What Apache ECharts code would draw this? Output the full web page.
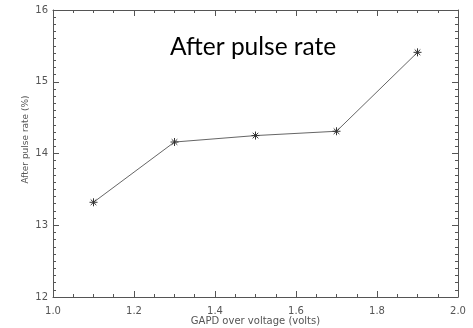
<!DOCTYPE html>
<html><head><meta charset="utf-8">
<script src="https://cdn.jsdelivr.net/npm/echarts@6/dist/echarts.min.js"></script>
<style>html,body{margin:0;padding:0;background:#fff}#c{width:473px;height:328px}</style>
</head><body><div id="c"></div>
<script>
const xValues = [1.1, 1.3, 1.5, 1.7, 1.9];
const afterPulseRate = [13.32, 14.16, 14.25, 14.31, 15.41];
const titleText = "After pulse rate";
const xName = "GAPD over voltage (volts)";
const yName = "After pulse rate (%)";

const axisCol = '#555';
const lblStyle = {color: '#555', fontSize: 10, fontFamily: 'DejaVu Sans'};
const star = 'path://M0 5 L10 5 M5 0 L5 10 M1.5 1.5 L8.5 8.5 M8.5 1.5 L1.5 8.5';
const X = {min: 1.0, max: 2.0, interval: 0.2, minorSplit: 4};
const Y = {min: 12, max: 16, interval: 1, minorSplit: 10};
const G = {left: 53, right: 15, top: 10, bottom: 31};
const W = 473, H = 328;

function mainX(pos, show) {
  return {type: 'value', gridIndex: 0, min: X.min, max: X.max, interval: X.interval, position: pos,
    axisLine: {show: true, onZero: false, lineStyle: {color: axisCol, width: 1}},
    axisTick: {show: true, inside: true, length: 6, lineStyle: {color: axisCol, width: 1}},
    minorTick: {show: true, splitNumber: X.minorSplit, length: 3, lineStyle: {color: axisCol, width: 1}},
    splitLine: {show: false},
    axisLabel: show ? Object.assign({formatter: v => v.toFixed(1), margin: 9}, lblStyle) : {show: false},
    name: show ? xName : '', nameLocation: 'middle', nameGap: 19, nameMoveOverlap: false,
    nameTextStyle: lblStyle};
}
function mainY(pos, show) {
  return {type: 'value', gridIndex: 0, min: Y.min, max: Y.max, interval: Y.interval, position: pos,
    axisLine: {show: true, onZero: false, lineStyle: {color: axisCol, width: 1}},
    axisTick: {show: true, inside: true, length: 6, lineStyle: {color: axisCol, width: 1}},
    minorTick: {show: true, splitNumber: Y.minorSplit, length: 3, lineStyle: {color: axisCol, width: 1}},
    splitLine: {show: false},
    axisLabel: show ? Object.assign({margin: 5}, lblStyle) : {show: false},
    name: show ? yName : '', nameLocation: 'middle', nameGap: 23, nameMoveOverlap: false,
    nameTextStyle: Object.assign({}, lblStyle, {fontSize: 9, padding: [0, 0, 0, 28]})};
}
const grids = [Object.assign({outerBoundsMode: 'none', containLabel: false}, G)];
const xAxes = [mainX('bottom', true), mainX('top', false)];
const yAxes = [mainY('left', true), mainY('right', false)];
const hidden = {axisLine: {show: false}, axisTick: {show: false}, axisLabel: {show: false}};
function strip(gridRect, horizontal, minor) {
  const gi = grids.length;
  grids.push(Object.assign({outerBoundsMode: 'none', containLabel: false}, gridRect));
  const S = horizontal ? X : Y;
  const ticked = Object.assign({type: 'value', gridIndex: gi, min: S.min, max: S.max, interval: S.interval,
    splitLine: {show: !minor, lineStyle: {color: axisCol, width: 1}},
    minorTick: {show: false, splitNumber: S.minorSplit},
    minorSplitLine: {show: minor, lineStyle: {color: axisCol, width: 1}}}, hidden);
  const other = Object.assign({type: 'value', gridIndex: gi, min: 0, max: 1, splitLine: {show: false}}, hidden);
  if (horizontal) { xAxes.push(ticked); yAxes.push(other); }
  else { yAxes.push(ticked); xAxes.push(other); }
}
const plotW = W - G.left - G.right, plotH = H - G.top - G.bottom;
[[6, false], [3, true]].forEach(([len, minor]) => {
  strip({left: G.left, width: plotW, top: H - G.bottom - len, height: len}, true, minor);
  strip({left: G.left, width: plotW, top: G.top, height: len}, true, minor);
  strip({left: G.left, width: len, top: G.top, height: plotH}, false, minor);
  strip({left: W - G.right - len, width: len, top: G.top, height: plotH}, false, minor);
});

const chart = echarts.init(document.getElementById('c'));
chart.setOption({
  animation: false,
  backgroundColor: '#fff',
  title: {text: titleText, left: 165, top: 30,
    textStyle: {fontFamily: 'Lato', fontWeight: 'normal', fontSize: 24.5, color: '#000'}},
  grid: grids,
  xAxis: xAxes,
  yAxis: yAxes,
  series: [{
    type: 'line', xAxisIndex: 0, yAxisIndex: 0,
    data: xValues.map((x, i) => [x, afterPulseRate[i]]),
    lineStyle: {color: '#666', width: 1},
    symbol: star, symbolSize: 8,
    itemStyle: {color: 'transparent', borderColor: '#333', borderWidth: 1}
  }]
});
</script></body></html>
